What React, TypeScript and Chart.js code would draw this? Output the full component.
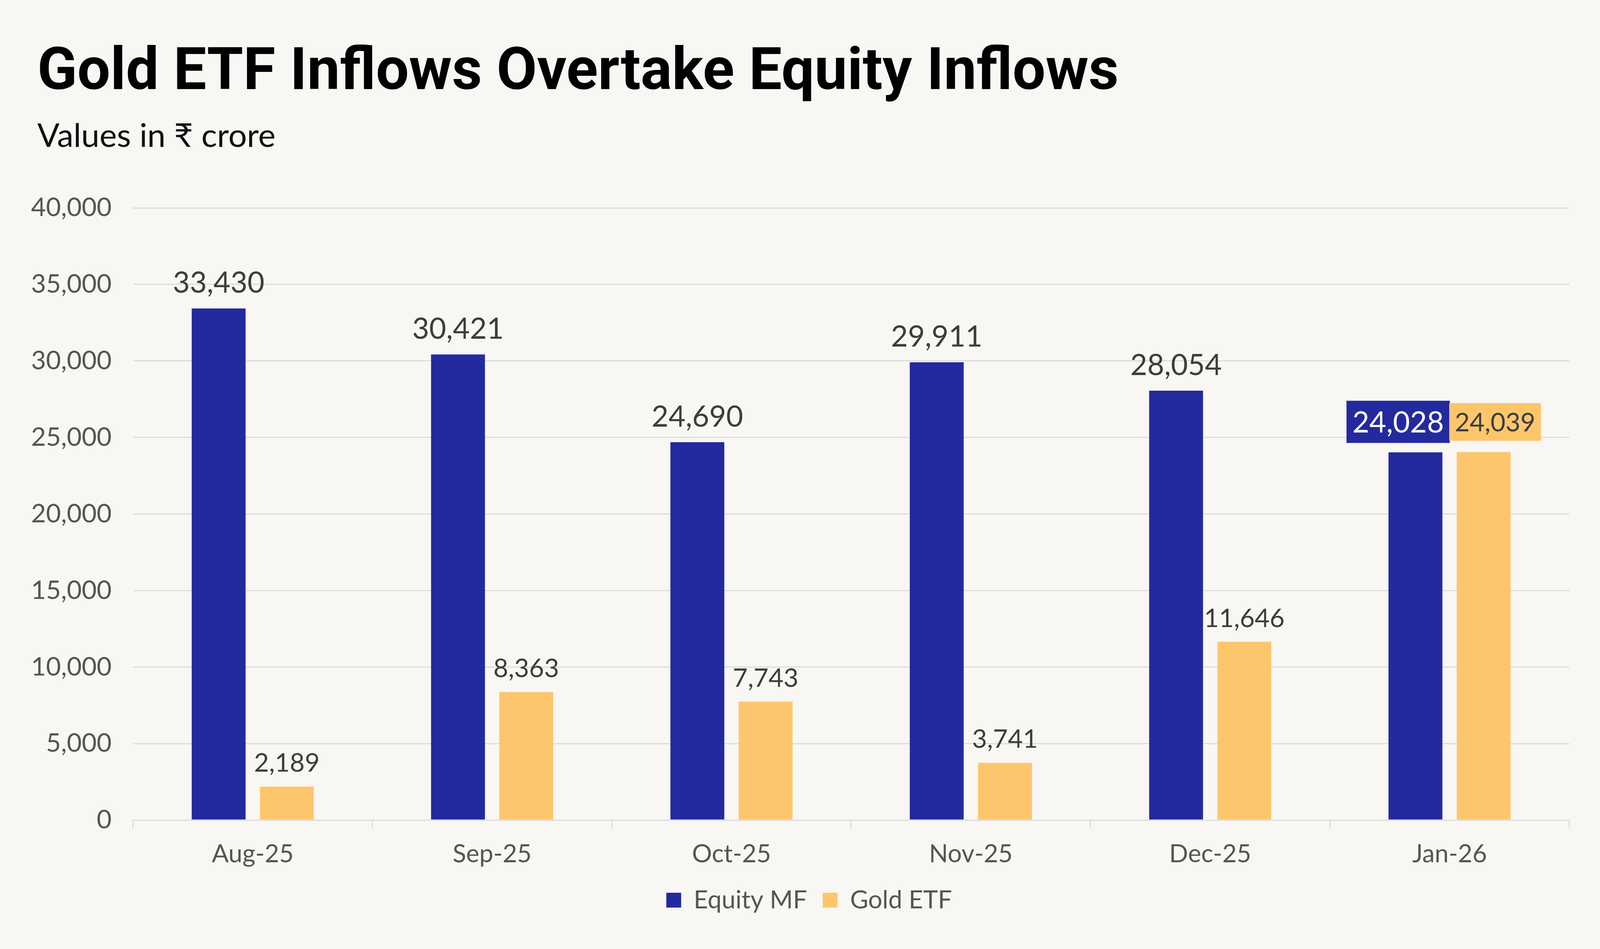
import React, { useEffect, useRef } from "react";
import { Chart, registerables } from "chart.js";

Chart.register(...registerables);

const categories = ["Aug-25", "Sep-25", "Oct-25", "Nov-25", "Dec-25", "Jan-26"];
const equityMF = [33430, 30421, 24690, 29911, 28054, 24028];
const goldETF = [2189, 8363, 7743, 3741, 11646, 24039];
const yTicks = [0, 5000, 10000, 15000, 20000, 25000, 30000, 35000, 40000];

const TITLE = "Gold ETF Inflows Overtake Equity Inflows";
const SUBTITLE = "Values in ₹ crore";

const EQUITY_COLOR = "#232A9E";
const GOLD_COLOR = "#FDC66C";
const BG = "#F8F7F3";
const LABEL_FONT = "Lato";
const REF_W = 4629;
const REF_H = 2429;

const fmt = (v: number) => v.toLocaleString("en-US");

function makeValueLabels(sx: number, sy: number) {
  return {
    id: "valueLabels",
    afterLayout(chart: any) {
      // let the y tick labels use the space left of the axis box (avoid clipping)
      const y = chart.scales.y;
      if (y) y.left = 0;
    },
    afterDatasetsDraw(chart: any) {
      const ctx = chart.ctx;
      const last = categories.length - 1;
      chart.data.datasets.forEach((ds: any, i: number) => {
        const meta = chart.getDatasetMeta(i);
        const size = (i === 0 ? 75 : 66) * sy;
        meta.data.forEach((bar: any, j: number) => {
          const text = fmt(ds.data[j]);
          ctx.save();
          ctx.font = `400 ${size}px ${LABEL_FONT}`;
          ctx.textAlign = "center";
          ctx.textBaseline = "alphabetic";
          if (j === last) {
            const cap = size * 0.72;
            const w = ctx.measureText(text).width;
            const cx = i === 0 ? bar.x - 50 * sx : bar.x + 33 * sx;
            const base = i === 0 ? bar.y - 51 * sy : bar.y - 53 * sy;
            const padX = (i === 0 ? 17 : 16) * sx;
            const padTop = (i === 0 ? 27 : 25) * sy;
            const padBot = (i === 0 ? 27 : 24) * sy;
            ctx.fillStyle = i === 0 ? EQUITY_COLOR : GOLD_COLOR;
            ctx.fillRect(cx - w / 2 - padX, base - cap - padTop, w + padX * 2, cap + padTop + padBot);
            ctx.fillStyle = i === 0 ? "#ffffff" : "#3d3d3d";
            ctx.fillText(text, cx, base);
          } else {
            ctx.fillStyle = "#3d3d3d";
            ctx.fillText(text, bar.x, bar.y - (i === 0 ? 40 : 38) * sy);
          }
          ctx.restore();
        });
      });
    },
  };
}

export default function App() {
  const wrap = useRef<HTMLDivElement | null>(null);
  const ref = useRef<HTMLCanvasElement | null>(null);
  const vw = typeof window !== "undefined" ? window.innerWidth : REF_W;
  const vh = typeof window !== "undefined" ? window.innerHeight : REF_H;
  const SX = vw / REF_W;
  const SY = vh / REF_H;

  useEffect(() => {
    if (!ref.current || !wrap.current) return;
    const cw = wrap.current.clientWidth || REF_W;
    const ch = wrap.current.clientHeight || REF_H;
    const sx = cw / REF_W;
    const sy = ch / REF_H;
    const chart = new Chart(ref.current, {
      type: "bar",
      data: {
        labels: categories,
        datasets: [
          {
            label: "Equity MF",
            data: equityMF,
            backgroundColor: EQUITY_COLOR,
            categoryPercentage: 0.57,
            barPercentage: 0.79,
          },
          {
            label: "Gold ETF",
            data: goldETF,
            backgroundColor: GOLD_COLOR,
            categoryPercentage: 0.57,
            barPercentage: 0.79,
          },
        ],
      },
      options: {
        animation: false,
        responsive: true,
        maintainAspectRatio: false,
        devicePixelRatio: 1,
        layout: { padding: { left: 142 * sx, right: 89 * sx, top: 532 * sy, bottom: 83 * sy } },
        plugins: {
          title: { display: false },
          subtitle: { display: false },
          legend: {
            display: true,
            position: "bottom",
            labels: {
              color: "#555555",
              font: { family: LABEL_FONT, size: 64 * sy },
              boxWidth: 38 * sy,
              boxHeight: 38 * sy,
              padding: 40 * sy,
            },
          },
          tooltip: { enabled: false },
        },
        scales: {
          x: {
            grid: {
              display: true,
              drawOnChartArea: false,
              drawTicks: true,
              tickLength: 22 * sy,
              color: "#dcdcdc",
              lineWidth: 3,
              offset: true,
            },
            border: { display: true, color: "#dcdcdc", width: 3 },
            ticks: {
              color: "#555555",
              font: { family: LABEL_FONT, size: 64 * sy },
              padding: 27 * sy,
            },
            afterFit: (scale: any) => {
              scale.height = 133 * sy;
            },
          },
          y: {
            min: 0,
            max: 40000,
            afterBuildTicks: (scale: any) => {
              scale.ticks = yTicks.map((v) => ({ value: v }));
            },
            grid: { color: "#dcdcdc", lineWidth: 3, drawTicks: false },
            border: { display: false },
            ticks: {
              color: "#555555",
              font: { family: LABEL_FONT, size: 66 * sy },
              padding: 62 * sx,
              callback: (v: any) => fmt(Number(v)),
            },
            afterFit: (scale: any) => {
              scale.width = (385 - 142) * sx;
            },
          },
        },
      },
      plugins: [makeValueLabels(sx, sy)],
    });
    return () => chart.destroy();
  }, []);

  return (
    <div
      ref={wrap}
      style={{ position: "fixed", left: 0, top: 0, width: "100vw", height: "100vh", background: BG }}
    >
      <canvas ref={ref} />
      <div
        style={{
          position: "absolute",
          left: 108 * SX + "px",
          top: 102 * SY + "px",
          margin: 0,
          whiteSpace: "nowrap",
          fontFamily: "Roboto",
          fontWeight: 700,
          fontSize: 150 * SY + "px",
          lineHeight: 150 * SY + "px",
          color: "#000000",
        }}
      >
        {TITLE}
      </div>
      <div
        style={{
          position: "absolute",
          left: 108 * SX + "px",
          top: 302 * SY + "px",
          margin: 0,
          whiteSpace: "nowrap",
          fontFamily: LABEL_FONT + ", 'Noto Sans'",
          fontWeight: 400,
          fontSize: 84 * SY + "px",
          lineHeight: 84 * SY + "px",
          color: "#111111",
        }}
      >
        {SUBTITLE}
      </div>
    </div>
  );
}
